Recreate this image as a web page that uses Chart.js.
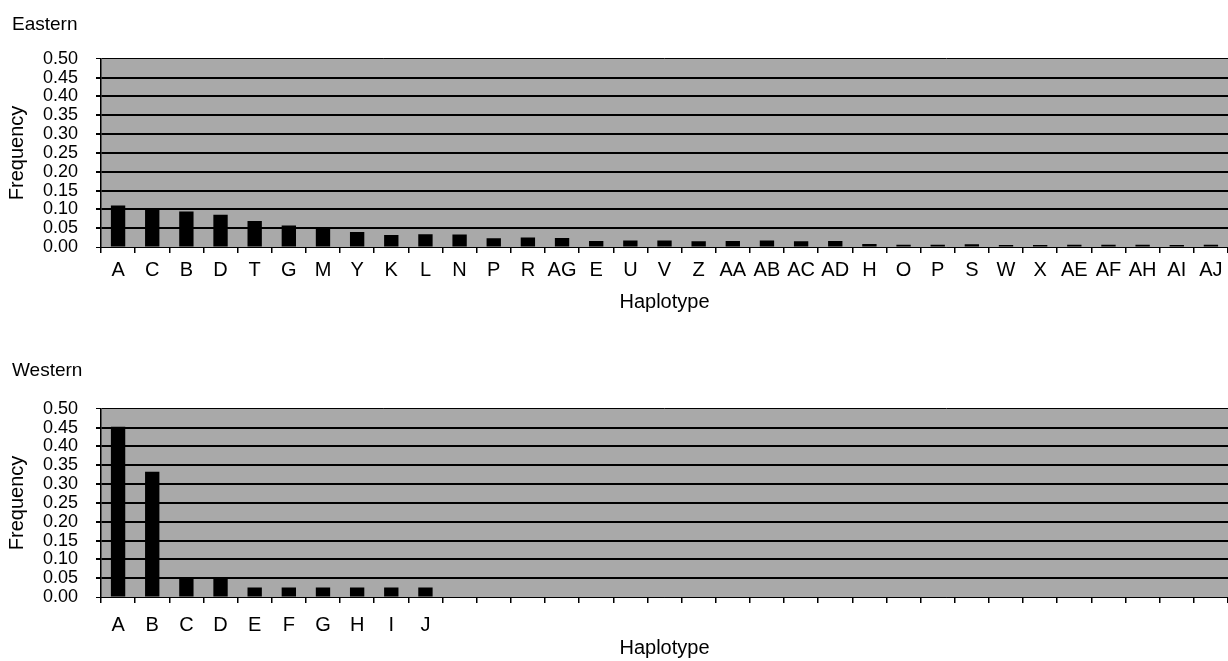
<!DOCTYPE html>
<html>
<head>
<meta charset="utf-8">
<script src="https://cdn.jsdelivr.net/npm/chart.js@4"></script>
<style>
  html, body { margin: 0; padding: 0; background: #fff; }
  .panel { position: absolute; left: 0; width: 1228px; }
  #east { top: 0; height: 330px; }
  #west { top: 330px; height: 331px; }
</style>
</head>
<body>
<div class="panel" id="east"><canvas id="eastChart"></canvas></div>
<div class="panel" id="west"><canvas id="westChart"></canvas></div>
<script>
const eastLabels = ['A', 'C', 'B', 'D', 'T', 'G', 'M', 'Y', 'K', 'L', 'N', 'P', 'R', 'AG', 'E', 'U', 'V', 'Z',
    'AA', 'AB', 'AC', 'AD', 'H', 'O', 'P', 'S', 'W', 'X', 'AE', 'AF', 'AH', 'AI', 'AJ'];
const eastFreq = [0.110, 0.101, 0.094, 0.086, 0.069, 0.057, 0.049, 0.040, 0.032, 0.034, 0.033, 0.023, 0.025, 0.024,
    0.016, 0.017, 0.017, 0.015, 0.016, 0.017, 0.015, 0.016, 0.008, 0.006, 0.006, 0.007, 0.005, 0.005, 0.006,
    0.006, 0.006, 0.005, 0.006];

const westLabels = ['A', 'B', 'C', 'D', 'E', 'F', 'G', 'H', 'I', 'J', '', '', '', '', '', '', '', '', '', '',
    '', '', '', '', '', '', '', '', '', '', '', '', ''];
const westFreq = [0.452, 0.333, 0.049, 0.049, 0.025, 0.025, 0.025, 0.025, 0.025, 0.025, 0, 0, 0, 0, 0, 0, 0, 0,
    0, 0, 0, 0, 0, 0, 0, 0, 0, 0, 0, 0, 0, 0, 0];

const yTicks = [0, 0.05, 0.10, 0.15, 0.20, 0.25, 0.30, 0.35, 0.40, 0.45, 0.50];

const font = 'Arial, "Liberation Sans", sans-serif';

// grey plot area, like the old spreadsheet chart
const plotBg = {
    id: 'plotBg',
    beforeDraw(chart) {
        const a = chart.chartArea;
        const c = chart.ctx;
        c.save();
        c.fillStyle = '#a9a9a9';
        c.fillRect(a.left, a.top, a.right - a.left, a.bottom - a.top);
        c.restore();
    }
};

function makeChart(id, title, labels, values, lay) {
    return new Chart(document.getElementById(id), {
        type: 'bar',
        data: {
            labels: labels,
            datasets: [{
                data: values,
                backgroundColor: '#000',
                barPercentage: 0.42,
                categoryPercentage: 1
            }]
        },
        options: {
            responsive: true,
            maintainAspectRatio: false,
            animation: false,
            layout: { padding: { left: 12, right: 0, top: 0, bottom: 0 } },
            plugins: {
                legend: { display: false },
                tooltip: { enabled: false },
                title: {
                    display: true,
                    text: title,
                    align: 'start',
                    color: '#000',
                    font: { family: font, size: 19, weight: 'normal' },
                    padding: { top: lay.titleTop, bottom: lay.titleBottom }
                }
            },
            scales: {
                x: {
                    grid: {
                        offset: true,
                        drawOnChartArea: false,
                        drawTicks: true,
                        tickLength: 6,
                        color: '#000',
                        lineWidth: 1.5
                    },
                    border: { display: true, color: '#000', width: 1 },
                    ticks: {
                        autoSkip: false,
                        maxRotation: 0,
                        padding: lay.labelPad,
                        color: '#000',
                        font: { family: font, size: 20 }
                    },
                    title: {
                        display: true,
                        text: 'Haplotype',
                        color: '#000',
                        font: { family: font, size: 20 },
                        padding: { top: 4, bottom: lay.xTitleBottom }
                    },
                    afterFit(scale) { scale.height = lay.xHeight; }
                },
                y: {
                    min: 0,
                    max: 0.5,
                    afterBuildTicks(scale) {
                        scale.ticks = yTicks.map(v => ({ value: v }));
                    },
                    grid: {
                        color: '#000',
                        lineWidth: ctx => (ctx.tick && ctx.tick.value > 0 && ctx.tick.value < 0.5) ? 2 : 1,
                        tickLength: 5
                    },
                    border: { display: true, color: '#000', width: 1.5 },
                    ticks: {
                        autoSkip: false,
                        padding: 18,
                        color: '#000',
                        font: { family: font, size: 18 },
                        callback: v => Number(v).toFixed(2)
                    },
                    title: {
                        display: true,
                        text: 'Frequency',
                        color: '#000',
                        font: { family: font, size: 20 },
                        padding: { top: -7, bottom: 0 }
                    },
                    afterFit(scale) { scale.width = 89; }
                }
            }
        },
        plugins: [plotBg]
    });
}

makeChart('eastChart', 'Eastern', eastLabels, eastFreq,
    { titleTop: 13, titleBottom: 23, labelPad: 5, xTitleBottom: 16, xHeight: 83 });
makeChart('westChart', 'Western', westLabels, westFreq,
    { titleTop: 29, titleBottom: 27, labelPad: 10, xTitleBottom: 1, xHeight: 64 });
</script>
</body>
</html>
